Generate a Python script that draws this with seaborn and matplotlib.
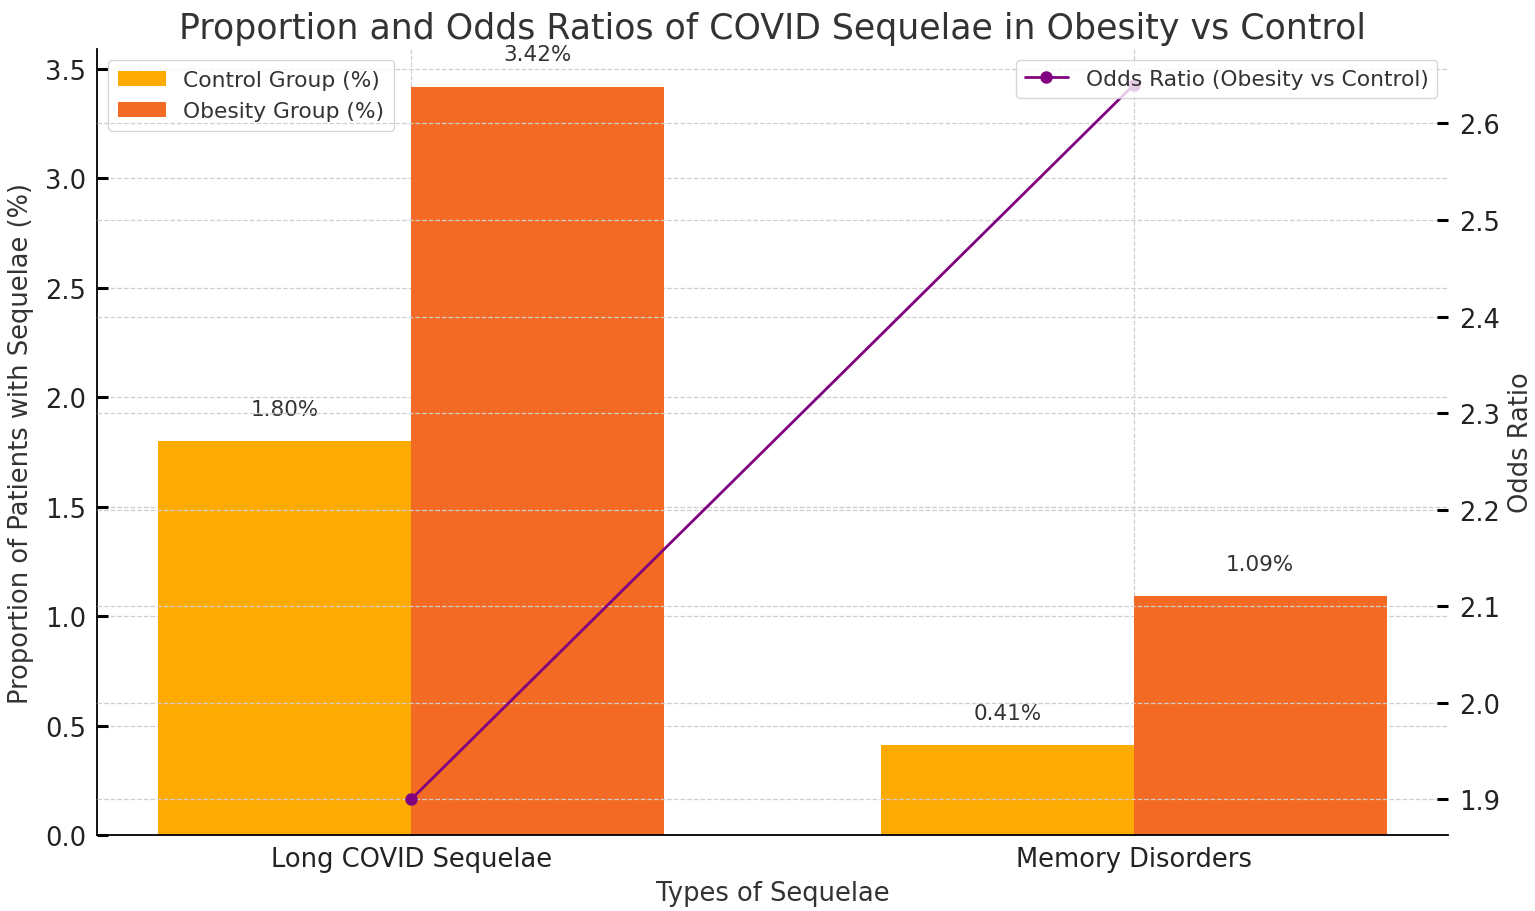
import numpy as np
import pandas as pd
import matplotlib
matplotlib.use('Agg')
import matplotlib.pyplot as plt
import seaborn as sns

# Data
categories = ['Long COVID Sequelae', 'Memory Disorders']
control_pct = [1.80, 0.41]
obesity_pct = [3.42, 1.09]
odds_ratio = [1.90, 2.64]

group_names = ['Control Group (%)', 'Obesity Group (%)']
group_colors = ['#FDAB03', '#F26A24']

df = pd.DataFrame({
    'category': categories * 2,
    'group': [group_names[0]] * 2 + [group_names[1]] * 2,
    'pct': control_pct + obesity_pct,
})

sns.set_style('white')
plt.rcParams['font.family'] = ['DejaVu Sans']
plt.rcParams.update({
    'xtick.bottom': True, 'ytick.left': True,
    'xtick.direction': 'in', 'ytick.direction': 'in',
    'xtick.major.size': 7, 'ytick.major.size': 7,
    'xtick.major.width': 2, 'ytick.major.width': 2,
    'xtick.color': 'black', 'ytick.color': 'black',
    'xtick.major.pad': 8, 'ytick.major.pad': 8,
})
text_col = '#333333'
tick_col = '#222222'

fig = plt.figure(figsize=(15.35, 9.12), dpi=100)
ax = fig.add_axes([0.0632, 0.0833, 0.8801, 0.8617])

sns.barplot(data=df, x='category', y='pct', hue='group', palette=group_colors,
            width=0.7, saturation=1, linewidth=0, ax=ax, legend=True)

for cont in ax.containers:
    ax.bar_label(cont, fmt='%.2f%%', padding=16, fontsize=15.5, color=text_col)

ax.set_xlim(-0.435, 1.435)
ax.set_ylim(0, 3.591)
ax.set_yticks(np.arange(0, 3.51, 0.5))
ax.grid(True, axis='both', linestyle='--', color='#cfcfcf', linewidth=0.9)
ax.tick_params(labelsize=18.5, right=False, top=False)
for lab in ax.get_xticklabels() + ax.get_yticklabels():
    lab.set_color(tick_col)
ax.set_xlabel('Types of Sequelae', fontsize=18.5, color=text_col, labelpad=6)
ax.set_ylabel('Proportion of Patients with Sequelae (%)', fontsize=18.5, color=text_col,
              labelpad=8)
ax.set_title('Proportion and Odds Ratios of COVID Sequelae in Obesity vs Control',
             fontsize=25, color=text_col, pad=8)
for s in ['top', 'right']:
    ax.spines[s].set_visible(False)
for s in ['left', 'bottom']:
    ax.spines[s].set_color('black')
    ax.spines[s].set_linewidth(1.3)

leg1 = ax.legend(loc='upper left', fontsize=15.7, frameon=True, labelcolor=text_col,
                 handlelength=2.2, borderpad=0.45)
leg1.get_frame().set_edgecolor('#cccccc')

ax2 = ax.twinx()
sns.lineplot(x=np.arange(len(categories)), y=odds_ratio, color='purple', marker='o',
             markersize=9, markeredgewidth=0, linewidth=2,
             label='Odds Ratio (Obesity vs Control)', ax=ax2)
ax2.set_xlim(-0.435, 1.435)
ax2.set_ylim(1.863, 2.677)
ax2.set_yticks(np.arange(1.9, 2.61, 0.1))
ax2.grid(True, axis='y', linestyle='--', color='#cfcfcf', linewidth=0.9)
ax2.grid(False, axis='x')
ax2.set_ylabel('Odds Ratio', fontsize=18.5, color=text_col, labelpad=6)
ax2.tick_params(axis='y', labelsize=18.5, left=False, right=True)
for lab in ax2.get_yticklabels():
    lab.set_color(tick_col)
for s in ['top', 'right', 'left', 'bottom']:
    ax2.spines[s].set_visible(False)
leg2 = ax2.legend(loc='upper right', fontsize=15.7, frameon=True, labelcolor=text_col)
leg2.get_frame().set_edgecolor('#cccccc')

# make sure the inward tick marks are drawn
for t in ax.xaxis.get_major_ticks() + ax.yaxis.get_major_ticks():
    t.tick1line.set_visible(True)
    t.tick1line.set_color('black')
    t.tick1line.set_markersize(8)
    t.tick1line.set_markeredgewidth(2.2)
for t in ax2.yaxis.get_major_ticks():
    t.tick2line.set_visible(True)
    t.tick2line.set_color('black')
    t.tick2line.set_markersize(8)
    t.tick2line.set_markeredgewidth(2.2)

fig.savefig('out.png', dpi=100)
